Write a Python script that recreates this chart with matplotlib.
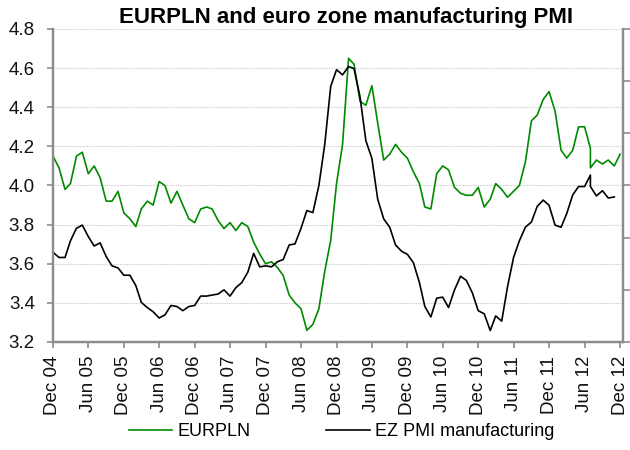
import matplotlib
matplotlib.use('Agg')
import matplotlib.pyplot as plt
import matplotlib.dates as mdates
import pandas as pd

plt.rcParams['font.family'] = ['Liberation Sans', 'DejaVu Sans']

# monthly dates Dec 04 .. Dec 12; Jul 12 appears twice (both series drop sharply there)
months = list(pd.date_range('2004-12-01', '2012-12-01', freq='MS'))
dates = months[:92] + [months[91]] + months[92:]

eurpln = [4.15, 4.09, 3.98, 4.01, 4.15, 4.17, 4.06, 4.10, 4.04, 3.92, 3.92, 3.97,
          3.86, 3.83, 3.79, 3.88, 3.92, 3.90, 4.02, 4.00, 3.91, 3.97, 3.90, 3.83,
          3.81, 3.88, 3.89, 3.88, 3.82, 3.78, 3.81, 3.77, 3.81, 3.79, 3.71, 3.65,
          3.60, 3.61, 3.58, 3.54, 3.44, 3.40, 3.37, 3.26, 3.29, 3.37, 3.56, 3.72,
          4.01, 4.21, 4.65, 4.62, 4.43, 4.41, 4.51, 4.32, 4.13, 4.16, 4.21, 4.17,
          4.14, 4.07, 4.01, 3.89, 3.88, 4.06, 4.10, 4.08, 3.99, 3.96, 3.95, 3.95,
          3.99, 3.89, 3.93, 4.01, 3.98, 3.94, 3.97, 4.00, 4.12, 4.33, 4.36, 4.44,
          4.48, 4.38, 4.18, 4.14, 4.18, 4.30, 4.30, 4.19, 4.09, 4.13, 4.11, 4.13,
          4.10, 4.16]

ez_pmi = [51.4, 51.9, 51.9, 50.3, 49.1, 48.8, 49.9, 50.8, 50.5, 51.8, 52.7, 52.9,
          53.6, 53.6, 54.6, 56.2, 56.7, 57.1, 57.7, 57.4, 56.5, 56.6, 57.0, 56.6,
          56.5, 55.6, 55.6, 55.5, 55.4, 55.0, 55.6, 54.8, 54.3, 53.3, 51.5, 52.8,
          52.7, 52.8, 52.3, 52.1, 50.7, 50.6, 49.1, 47.4, 47.6, 45.0, 41.1, 35.5,
          33.9, 34.4, 33.6, 33.8, 36.5, 40.7, 42.4, 46.3, 48.2, 49.0, 50.7, 51.3,
          51.6, 52.4, 54.3, 56.6, 57.6, 55.8, 55.7, 56.7, 55.0, 53.7, 54.1, 55.3,
          57.0, 57.3, 58.9, 57.5, 58.0, 54.7, 51.9, 50.3, 49.0, 48.5, 47.0, 46.4,
          46.9, 48.8, 49.0, 47.7, 45.9, 45.1, 45.1, 44.0, 45.1, 46.0, 45.5, 46.2,
          46.1]

tick_dates = pd.date_range('2004-12-01', '2012-12-01', freq='6MS')
left_ticks = [3.2, 3.4, 3.6, 3.8, 4.0, 4.2, 4.4, 4.6, 4.8]
right_ticks = [30, 35, 40, 45, 50, 55, 60]

fig = plt.figure(figsize=(6.3, 4.5), dpi=100)
ax = fig.add_axes([0.0841, 0.24, 0.9048, 0.6956])
ax2 = ax.twinx()

green = '#008a00'
spine_c = '#8c8c8c'

l1, = ax.plot(dates[:len(eurpln)], eurpln, color=green, lw=1.2, label='EURPLN')
l2, = ax2.plot(dates[:len(ez_pmi)], ez_pmi, color='black', lw=1.2,
               label='EZ PMI manufacturing')

ax.set_ylim(3.2, 4.8)
ax.set_yticks(left_ticks)
ax.set_yticklabels([f'{t:.1f}' for t in left_ticks])
ax2.set_ylim(60, 30)  # inverted PMI scale
ax2.set_yticks(right_ticks)
ax2.set_yticklabels([])

ax.set_xlim(pd.Timestamp('2004-12-01'), pd.Timestamp('2012-12-16'))
ax.set_xticks(tick_dates)
ax.xaxis.set_major_formatter(mdates.DateFormatter('%b %y'))
plt.setp(ax.get_xticklabels(), rotation=90)

ax.grid(axis='y', color='#c8c8c8', linestyle=(0, (1, 1)), linewidth=0.8)
ax.set_axisbelow(True)

for a in (ax, ax2):
    a.spines['top'].set_visible(False)
    for s in ('left', 'bottom', 'right'):
        a.spines[s].set_color(spine_c)
        a.spines[s].set_linewidth(1.6)
ax.tick_params(axis='both', colors=spine_c, labelcolor='#111111', labelsize=13.5,
               length=4, width=1.2, direction='out')
ax.tick_params(axis='y', pad=9)
ax.tick_params(axis='x', pad=6)
ax2.tick_params(axis='y', colors=spine_c, length=5, width=1.2, direction='out')

fig.text(0.549, 0.962, 'EURPLN and euro zone manufacturing PMI', ha='center',
         va='center', fontsize=16, fontweight='bold')

fig.legend(handles=[l1, l2], loc='center', bbox_to_anchor=(0.542, 0.04), ncol=2,
           frameon=False, fontsize=13, handlelength=2.4, handletextpad=0.3,
           columnspacing=4.2)

fig.savefig('out.png', dpi=100)
